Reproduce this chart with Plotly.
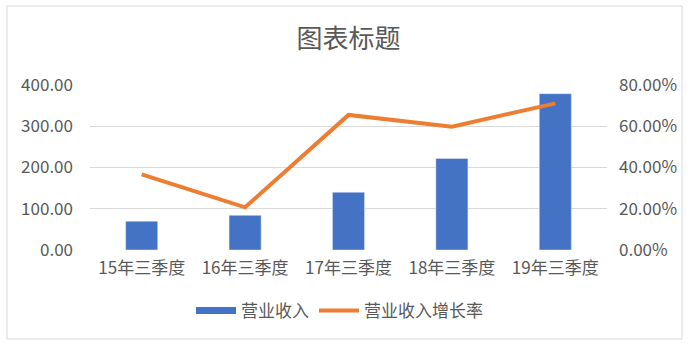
import plotly.graph_objects as go

categories = ["15年三季度", "16年三季度", "17年三季度", "18年三季度", "19年三季度"]
revenue = [70.0, 84.0, 140.0, 222.0, 379.0]
growth = [0.367, 0.207, 0.655, 0.598, 0.711]

W, H = 692, 346
ML, MR, MT, MB = 90, 85, 85, 96
PW, PH = W - ML - MR, H - MT - MB

CJK = "Noto Sans CJK SC, Microsoft YaHei, sans-serif"
GREY = "#595959"
BLUE = "#4472C4"
ORANGE = "#ED7D31"

fig = go.Figure()
fig.add_trace(go.Bar(x=categories, y=revenue, name="营业收入", marker_color=BLUE,
                     width=0.31, showlegend=False, yaxis="y"))
fig.add_trace(go.Scatter(x=[None], y=[None], mode="lines", name="营业收入",
                         line=dict(color=BLUE, width=7), yaxis="y"))
fig.add_trace(go.Scatter(x=categories, y=growth, mode="lines", name="营业收入增长率",
                         line=dict(color=ORANGE, width=4), yaxis="y2"))

def px_x(p):
    return (p - ML) / PW

def px_y(p):
    return (H - MB - p) / PH

fig.update_layout(
    width=W, height=H,
    margin=dict(l=ML, r=MR, t=MT, b=MB),
    paper_bgcolor="white", plot_bgcolor="white",
    font=dict(family=CJK, size=17, color=GREY),
    title=dict(text="图表标题", x=0.5, xanchor="center", xref="paper",
               y=(H - 39) / H, yanchor="middle", yref="container",
               font=dict(size=26, color=GREY, family=CJK)),
    xaxis=dict(showgrid=False, showline=False, zeroline=False,
               ticks="", tickfont=dict(size=17, color=GREY), ticklabelstandoff=6),
    yaxis=dict(range=[0, 400], dtick=100, tickformat=".2f", showgrid=True,
               gridcolor="#D9D9D9", gridwidth=1, zeroline=False, showline=False,
               tickfont=dict(size=17, color=GREY), ticklabelstandoff=16),
    yaxis2=dict(range=[0, 0.8], dtick=0.2, tickformat=".2%", overlaying="y",
                side="right", showgrid=False, zeroline=False, showline=False,
                tickfont=dict(size=17, color=GREY), ticklabelstandoff=11),
    legend=dict(orientation="h", x=0.5 - 9 / PW, xanchor="center", y=px_y(311),
                yanchor="middle", font=dict(size=17, color=GREY), itemwidth=40,
                bgcolor="rgba(0,0,0,0)"),
    showlegend=True,
    shapes=[dict(type="rect", xref="paper", yref="paper",
                 x0=px_x(7), x1=px_x(682), y0=px_y(339), y1=px_y(6),
                 line=dict(color="#D9D9D9", width=1), fillcolor="rgba(0,0,0,0)",
                 layer="below")],
)

fig.write_html("out.html")
